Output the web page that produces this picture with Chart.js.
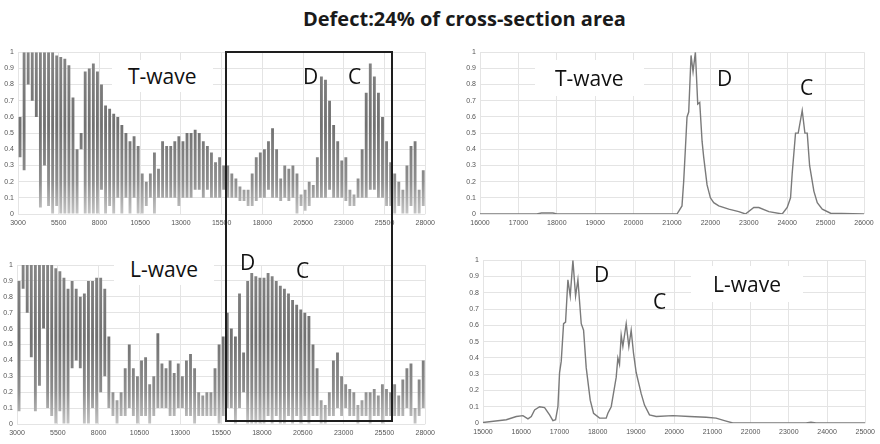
<!DOCTYPE html>
<html>
<head>
<meta charset="utf-8">
<script src="https://cdn.jsdelivr.net/npm/chart.js@4.4.1/dist/chart.umd.min.js"></script>
<style>
  body { margin: 0; width: 880px; height: 444px; background: #fff; position: relative; overflow: hidden; font-family: "Open Sans", sans-serif; }
  canvas { position: absolute; }
  #title { position: absolute; left: 303px; top: 5px; font-size: 20px; font-weight: 700; color: #1a1a1a; white-space: nowrap; }
  .lbl { position: absolute; font-size: 21px; line-height: 24px; color: #111; white-space: nowrap; z-index: 3; }
  .boxed { background: #fff; }
  #zone { position: absolute; left: 225px; top: 51px; width: 168px; height: 371px; border: 2px solid #1e1e1e; box-sizing: border-box; z-index: 4; }
</style>
</head>
<body>
<div id="title">Defect:24% of cross-section area</div>

<canvas id="tl" width="440" height="190" style="left:0;top:44px"></canvas>
<canvas id="tr" width="440" height="190" style="left:440px;top:44px"></canvas>
<canvas id="bl" width="440" height="188" style="left:0;top:256px"></canvas>
<canvas id="br" width="440" height="191" style="left:440px;top:252px"></canvas>

<div id="zone"></div>

<div class="lbl boxed" style="left:112px;top:60px;padding:4px 16px">T-wave</div>
<div class="lbl" style="left:303px;top:64px">D</div>
<div class="lbl" style="left:348px;top:64px">C</div>

<div class="lbl boxed" style="left:535px;top:60px;padding:6px 20px">T-wave</div>
<div class="lbl" style="left:717px;top:66px">D</div>
<div class="lbl" style="left:800px;top:75px">C</div>

<div class="lbl boxed" style="left:114px;top:253px;padding:4px 16px">L-wave</div>
<div class="lbl" style="left:240px;top:250px">D</div>
<div class="lbl" style="left:296px;top:258px">C</div>

<div class="lbl" style="left:594px;top:262px">D</div>
<div class="lbl" style="left:653px;top:289px">C</div>
<div class="lbl boxed" style="left:691px;top:266px;padding:6px 22px">L-wave</div>

<script>
// ---- scan windows (full record), binned every 250 samples: [low, high] envelope per bin
const fullBinStart = 3000;
const fullBinStep = 250;

const tWaveFullLow = [
  0.35, 0.27, 0.8, 0.7, 0.6, 0.04, 0.3, 0.05, 0.0, 0.05,
  0.0, 0.0, 0.0, 0.0, 0.0, 0.4, 0.0, 0.0, 0.0, 0.0,
  0.15, 0.0, 0.05, 0.0, 0.1, 0.0, 0.1, 0.0, 0.1, 0.0,
  0.0, 0.05, 0.1, 0.0, 0.1, 0.1, 0.1, 0.1, 0.1, 0.05,
  0.1, 0.1, 0.1, 0.15, 0.15, 0.1, 0.15, 0.1, 0.1, 0.1,
  0.15, 0.1, 0.1, 0.1, 0.08, 0.08, 0.05, 0.05, 0.08, 0.1,
  0.1, 0.15, 0.1, 0.1, 0.08, 0.1, 0.08, 0.1, 0.0, 0.05,
  0.02, 0.05, 0.1, 0.1, 0.1, 0.1, 0.15, 0.1, 0.1, 0.1,
  0.08, 0.05, 0.05, 0.1, 0.1, 0.1, 0.15, 0.15, 0.1, 0.1,
  0.05, 0.05, 0.0, 0.05, 0.0, 0.0, 0.05, 0.0, 0.0, 0.05
];
const tWaveFullHigh = [
  0.6, 1.0, 1.0, 1.0, 1.0, 1.0, 1.0, 1.0, 1.0, 0.98,
  0.97, 0.96, 0.92, 0.72, 0.4, 0.5, 0.88, 0.9, 0.93, 0.88,
  0.8, 0.67, 0.65, 0.62, 0.6, 0.55, 0.5, 0.45, 0.48, 0.42,
  0.25, 0.2, 0.25, 0.38, 0.28, 0.45, 0.42, 0.42, 0.45, 0.48,
  0.45, 0.5, 0.5, 0.52, 0.5, 0.45, 0.42, 0.38, 0.32, 0.35,
  0.3, 0.3, 0.25, 0.22, 0.17, 0.15, 0.15, 0.25, 0.35, 0.38,
  0.4, 0.45, 0.53, 0.4, 0.22, 0.3, 0.28, 0.3, 0.25, 0.12,
  0.15, 0.2, 0.18, 0.35, 0.85, 0.83, 0.7, 0.55, 0.45, 0.33,
  0.35, 0.15, 0.12, 0.22, 0.4, 0.75, 0.93, 0.85, 0.75, 0.6,
  0.45, 0.32, 0.25, 0.2, 0.15, 0.3, 0.42, 0.45, 0.15, 0.27
];

const lWaveFullLow = [
  0.08, 0.85, 0.7, 0.42, 0.08, 0.24, 0.6, 0.1, 0.05, 0.0,
  0.08, 0.0, 0.0, 0.35, 0.4, 0.35, 0.0, 0.0, 0.1, 0.0,
  0.2, 0.3, 0.1, 0.05, 0.0, 0.05, 0.05, 0.1, 0.05, 0.0,
  0.05, 0.05, 0.0, 0.05, 0.1, 0.1, 0.1, 0.05, 0.05, 0.1,
  0.1, 0.05, 0.05, 0.0, 0.05, 0.05, 0.05, 0.05, 0.05, 0.0,
  0.05, 0.1, 0.1, 0.0, 0.1, 0.2, 0.0, 0.0, 0.0, 0.0,
  0.0, 0.05, 0.0, 0.05, 0.0, 0.0, 0.05, 0.0, 0.05, 0.0,
  0.05, 0.0, 0.05, 0.05, 0.0, 0.0, 0.05, 0.05, 0.1, 0.05,
  0.1, 0.05, 0.05, 0.0, 0.05, 0.05, 0.0, 0.05, 0.05, 0.0,
  0.05, 0.05, 0.05, 0.05, 0.05, 0.1, 0.05, 0.0, 0.05, 0.1
];
const lWaveFullHigh = [
  0.9, 1.0, 1.0, 1.0, 1.0, 1.0, 1.0, 1.0, 1.0, 0.98,
  0.96, 0.92, 0.85, 0.9, 0.85, 0.8, 0.82, 0.9, 0.9, 0.92,
  0.92, 0.85, 0.55, 0.2, 0.15, 0.2, 0.35, 0.5, 0.35, 0.3,
  0.4, 0.42, 0.25, 0.3, 0.57, 0.38, 0.35, 0.4, 0.32, 0.38,
  0.3, 0.4, 0.44, 0.35, 0.2, 0.18, 0.2, 0.2, 0.35, 0.5,
  0.55, 0.7, 0.6, 0.55, 0.82, 0.45, 0.9, 0.95, 0.93, 0.92,
  0.92, 0.95, 0.93, 0.9, 0.87, 0.85, 0.82, 0.78, 0.75, 0.72,
  0.7, 0.68, 0.5, 0.35, 0.15, 0.12, 0.2, 0.4, 0.45, 0.3,
  0.25, 0.22, 0.2, 0.12, 0.15, 0.2, 0.2, 0.22, 0.18, 0.25,
  0.22, 0.2, 0.25, 0.18, 0.28, 0.35, 0.38, 0.1, 0.28, 0.4
];
const fullTicks = [3000, 5500, 8000, 10500, 13000, 15500, 18000, 20500, 23000, 25500, 28000];

// ---- zoomed windows: filtered response traces
const tWaveZoomX = [16000, 17480, 17600, 17900, 18000, 21130, 21260, 21304, 21348, 21391, 21435, 21496, 21548, 21609, 21670, 21722, 21783, 21826, 21913, 22000, 22087, 22217, 22478, 22739, 22913, 23130, 23261, 23522, 23870, 24000, 24087, 24130, 24217, 24287, 24391, 24461, 24522, 24583, 24696, 24783, 24913, 25130, 26000];
const tWaveZoomY = [0, 0, 0.006, 0.006, 0, 0, 0.05, 0.2, 0.4, 0.6, 0.63, 0.98, 0.88, 1.0, 0.68, 0.69, 0.45, 0.35, 0.18, 0.1, 0.07, 0.05, 0.03, 0.015, 0.0, 0.04, 0.04, 0.015, 0.0, 0.04, 0.1, 0.25, 0.5, 0.5, 0.64, 0.5, 0.5, 0.3, 0.14, 0.07, 0.03, 0.005, 0];
const tWaveZoomTicks = [16000, 17000, 18000, 19000, 20000, 21000, 22000, 23000, 24000, 25000, 26000];

const lWaveZoomX = [15000, 15610, 15871, 16045, 16176, 16263, 16350, 16481, 16611, 16742, 16829, 16899, 16960, 17003, 17047, 17108, 17160, 17221, 17282, 17352, 17422, 17483, 17570, 17631, 17700, 17805, 17892, 18049, 18223, 18267, 18354, 18441, 18484, 18528, 18571, 18615, 18659, 18746, 18815, 18876, 18937, 19007, 19138, 19225, 19355, 19530, 19965, 20401, 20836, 21098, 21315, 21533, 23450, 23580, 23711, 25000];
const lWaveZoomY = [0.003, 0.02, 0.04, 0.045, 0.025, 0.04, 0.08, 0.1, 0.095, 0.05, 0.015, 0.02, 0.1, 0.31, 0.38, 0.61, 0.62, 0.88, 0.78, 1.0, 0.78, 0.88, 0.61, 0.57, 0.34, 0.14, 0.06, 0.03, 0.03, 0.06, 0.1, 0.22, 0.28, 0.4, 0.36, 0.54, 0.47, 0.61, 0.47, 0.57, 0.43, 0.31, 0.18, 0.11, 0.05, 0.04, 0.045, 0.04, 0.035, 0.03, 0.015, 0, 0, 0.005, 0, 0];
const lWaveZoomTicks = [15000, 16000, 17000, 18000, 19000, 20000, 21000, 22000, 23000, 24000, 25000];

const amplitudeTicks = [0, 0.1, 0.2, 0.3, 0.4, 0.5, 0.6, 0.7, 0.8, 0.9, 1];

// ---- drawing
const tickFont = { family: "Liberation Sans", size: 7 };
const gridColor = '#e4e4e4';

function barShade(ctx) {
  const chart = ctx.chart;
  const a = chart.chartArea;
  if (!a) return '#999';
  if (!chart.$shade) {
    const g = chart.ctx.createLinearGradient(0, a.bottom, 0, a.top);
    g.addColorStop(0, '#c4c4c4');
    g.addColorStop(0.2, '#8e8e8e');
    g.addColorStop(0.55, '#717171');
    g.addColorStop(1, '#858585');
    chart.$shade = g;
  }
  return chart.$shade;
}

function axes(xMin, xMax, xTicks, yWidth) {
  return {
    x: {
      type: 'linear', min: xMin, max: xMax, offset: false,
      afterBuildTicks: s => { s.ticks = xTicks.map(v => ({ value: v })); },
      afterFit: s => { s.height = 20; },
      grid: { color: gridColor, drawTicks: false, offset: false },
      border: { display: false },
      ticks: { font: tickFont, color: '#555', padding: 5, maxRotation: 0, autoSkip: false, callback: v => String(v) }
    },
    y: {
      min: 0, max: 1,
      afterBuildTicks: s => { s.ticks = amplitudeTicks.map(v => ({ value: v })); },
      afterFit: s => { s.width = yWidth; },
      grid: { color: gridColor, drawTicks: false },
      border: { display: false },
      ticks: { font: tickFont, color: '#555', padding: 4, callback: v => String(v) }
    }
  };
}

const common = {
  responsive: false,
  animation: false,
  events: [],
  plugins: { legend: { display: false }, tooltip: { enabled: false }, title: { display: false } }
};

function envelopeChart(id, low, high, pad, yWidth) {
  const pts = high.map((h, i) => ({ x: fullBinStart + fullBinStep * (i + 0.5), y: [low[i], h] }));
  new Chart(document.getElementById(id), {
    type: 'bar',
    data: { datasets: [{ data: pts, backgroundColor: barShade, borderWidth: 0, barPercentage: 0.7, categoryPercentage: 1 }] },
    options: Object.assign({}, common, {
      layout: { padding: pad },
      scales: axes(3000, 28000, fullTicks, yWidth)
    })
  });
}

function traceChart(id, xs, ys, xMin, xMax, xTicks, pad, yWidth) {
  new Chart(document.getElementById(id), {
    type: 'line',
    data: { datasets: [{ data: xs.map((x, i) => ({ x: x, y: ys[i] })), borderColor: '#7a7a7a', borderWidth: 1.4, pointRadius: 0, tension: 0, fill: false }] },
    options: Object.assign({}, common, {
      layout: { padding: pad },
      scales: axes(xMin, xMax, xTicks, yWidth)
    })
  });
}

envelopeChart('tl', tWaveFullLow, tWaveFullHigh, { top: 8, right: 10, left: 0, bottom: 0 }, 18);
envelopeChart('bl', lWaveFullLow, lWaveFullHigh, { top: 9, right: 13, left: 0, bottom: 0 }, 17);
traceChart('tr', tWaveZoomX, tWaveZoomY, 16000, 26000, tWaveZoomTicks, { top: 6, right: 16, left: 0, bottom: 0 }, 40);
traceChart('br', lWaveZoomX, lWaveZoomY, 15000, 25000, lWaveZoomTicks, { top: 8, right: 14, left: 0, bottom: 0 }, 43);
</script>
</body>
</html>
